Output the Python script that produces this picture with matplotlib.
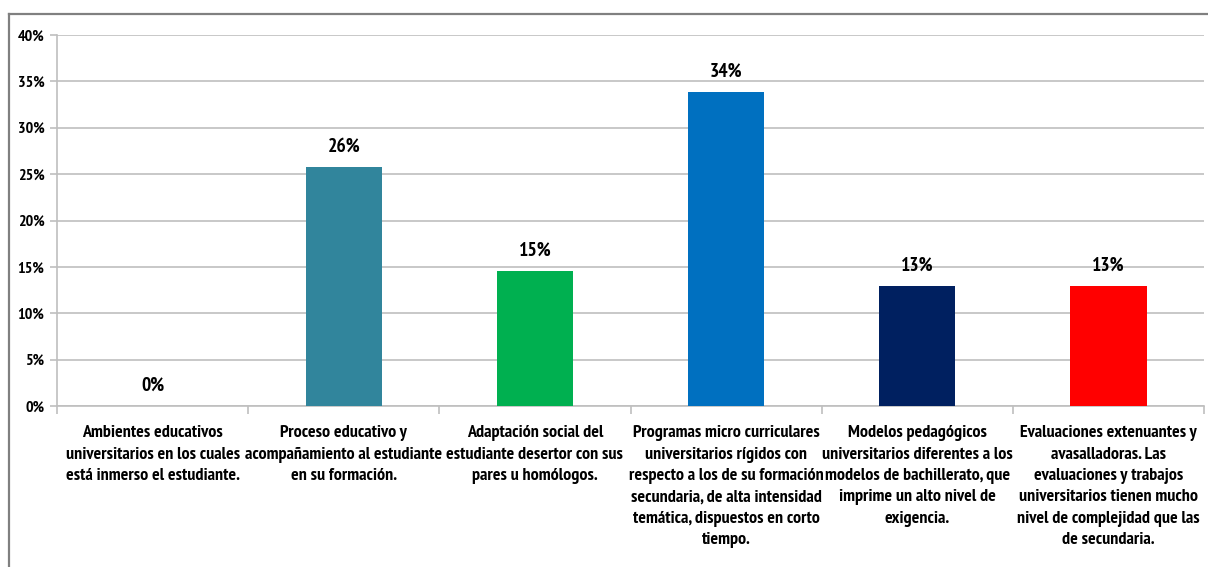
import matplotlib.pyplot as plt
from matplotlib import font_manager
from matplotlib.lines import Line2D

# pick a narrow sans that is actually installed
names = {f.name for f in font_manager.fontManager.ttflist}
font = next((f for f in ["PT Sans Narrow", "Fira Sans Condensed", "Roboto Condensed",
                         "IBM Plex Sans Condensed", "Carlito"] if f in names), "DejaVu Sans")
plt.rcParams["font.family"] = [font, "DejaVu Sans"]
plt.rcParams["font.weight"] = "bold"

categorias = [
    "Ambientes educativos\nuniversitarios en los cuales\nestá inmerso el estudiante.",
    "Proceso educativo y\nacompañamiento al estudiante\nen su formación.",
    "Adaptación social del\nestudiante desertor con sus\npares u homólogos.",
    "Programas micro curriculares\nuniversitarios rígidos con\nrespecto a los de su formación\nsecundaria, de alta intensidad\ntemática, dispuestos en corto\ntiempo.",
    "Modelos pedagógicos\nuniversitarios diferentes a los\nmodelos de bachillerato, que\nimprime un alto nivel de\nexigencia.",
    "Evaluaciones extenuantes y\navasalladoras. Las\nevaluaciones y trabajos\nuniversitarios tienen mucho\nnivel de complejidad que las\nde secundaria.",
]
porcentajes = [0.0, 25.8, 14.6, 33.9, 12.9, 12.9]
colores = ["#4F81BD", "#31859C", "#00B050", "#0070C0", "#002060", "#FF0000"]

fig = plt.figure(figsize=(12.08, 5.67), dpi=100)
ax = fig.add_axes([57 / 1208, 1 - 406 / 567, (1204 - 57) / 1208, (406 - 35) / 567])

x = list(range(len(categorias)))
ax.bar(x, porcentajes, width=0.4, color=colores, zorder=3)

for xi, v in zip(x, porcentajes):
    ax.annotate(f"{v:.0f}%", (xi, v), xytext=(0, 11), textcoords="offset points",
                ha="center", va="baseline", fontsize=14, fontweight="bold")

ax.set_xlim(-0.5, len(categorias) - 0.5)
ax.set_ylim(0, 40)
ax.set_yticks(range(0, 41, 5))
ax.set_yticklabels([f"{t}%" for t in range(0, 41, 5)], fontsize=11.5, fontweight="bold")
ax.yaxis.grid(True, color="#BFBFBF", linewidth=1.2, zorder=0)

# category separators as ticks between bars
ax.set_xticks([i - 0.5 for i in range(len(categorias) + 1)])
ax.set_xticklabels([])
ax.tick_params(axis="x", length=6, color="#BFBFBF", width=1.2)
ax.tick_params(axis="y", length=5, color="#BFBFBF", width=1.2, pad=4)
for xi, c in zip(x, categorias):
    ax.annotate(c, (xi, 0), xytext=(0, -14), textcoords="offset points",
                ha="center", va="top", fontsize=13, fontweight="bold", linespacing=1.44)

for s in ["top", "right"]:
    ax.spines[s].set_visible(False)
for s in ["left", "bottom"]:
    ax.spines[s].set_color("#BFBFBF")
    ax.spines[s].set_linewidth(1.2)

# outer chart frame
fig.add_artist(Line2D([9 / 1208, 1], [1 - 14 / 567] * 2, color="#808080", linewidth=1.6))
fig.add_artist(Line2D([9 / 1208] * 2, [0, 1 - 14 / 567], color="#808080", linewidth=1.6))

fig.savefig("out.png", dpi=100)
